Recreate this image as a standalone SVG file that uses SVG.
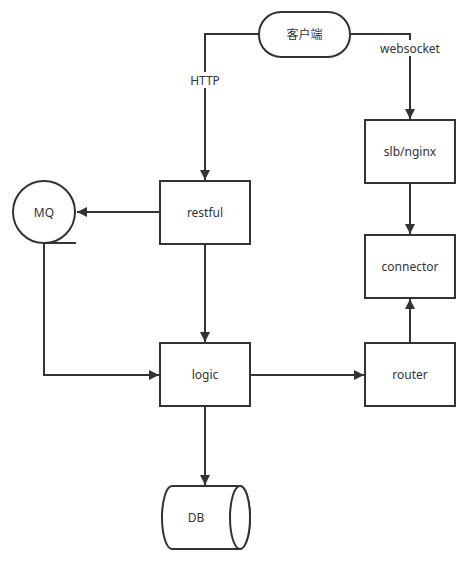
<svg xmlns="http://www.w3.org/2000/svg" width="476" height="568" viewBox="0 0 476 568">
<defs>
<style>
.n{fill:#fff;stroke:#333;stroke-width:2}
.c{fill:none;stroke:#333;stroke-width:2}
text{font-family:"Noto Sans","Noto Sans CJK SC",sans-serif;font-size:12px;fill:#333;text-anchor:middle;dominant-baseline:central}
.lbl{fill:#fff}
</style>
<marker id="a" viewBox="0 0 10 10" refX="10" refY="5" markerWidth="10" markerHeight="10" markerUnits="userSpaceOnUse" orient="auto">
<path d="M0,0 L10,5 L0,10 z" fill="#333"/>
</marker>
</defs>
<rect width="476" height="568" fill="#fff"/>
<g id="connectors">
<path class="c" d="M258,34 H205 V180" marker-end="url(#a)"/>
<rect x="186" y="72" width="38" height="16" class="lbl"/>
<text x="205" y="80">HTTP</text>
<path class="c" d="M350,34 H410 V119" marker-end="url(#a)"/>
<rect x="378" y="40" width="64" height="16" class="lbl"/>
<text x="410" y="48">websocket</text>
<path class="c" d="M160,212 H77" marker-end="url(#a)"/>
<path class="c" d="M205,244 V342" marker-end="url(#a)"/>
<path class="c" d="M44,244 V375 H159" marker-end="url(#a)"/>
<path class="c" d="M250,375 H364" marker-end="url(#a)"/>
<path class="c" d="M410,343 V299" marker-end="url(#a)"/>
<path class="c" d="M410,183 V234" marker-end="url(#a)"/>
<path class="c" d="M205,406 V485" marker-end="url(#a)"/>
</g>
<g id="client">
<rect class="n" x="259" y="12" width="91" height="45" rx="22" ry="22"/>
<text x="304.5" y="34.5">客户端</text>
</g>
<g id="slb">
<rect class="n" x="365" y="120" width="90" height="63"/>
<text x="410" y="151.5">slb/nginx</text>
</g>
<g id="connector">
<rect class="n" x="365" y="235" width="90" height="63"/>
<text x="410" y="266.5">connector</text>
</g>
<g id="restful">
<rect class="n" x="160" y="181" width="90" height="63"/>
<text x="205" y="212.5">restful</text>
</g>
<g id="mq">
<circle class="n" cx="44" cy="212" r="31"/>
<path class="c" d="M44,243 H76"/>
<text x="44" y="212.5">MQ</text>
</g>
<g id="logic">
<rect class="n" x="160" y="343" width="90" height="63"/>
<text x="205" y="374.5">logic</text>
</g>
<g id="router">
<rect class="n" x="365" y="343" width="90" height="63"/>
<text x="410" y="374.5">router</text>
</g>
<g id="db">
<path class="n" d="M172,486 H240 A10,31.5 0 0 1 240,549 H172 A10,31.5 0 0 1 172,486 Z"/>
<ellipse class="n" cx="240" cy="517.5" rx="10" ry="31.5"/>
<text x="196" y="517.5">DB</text>
</g>
</svg>
